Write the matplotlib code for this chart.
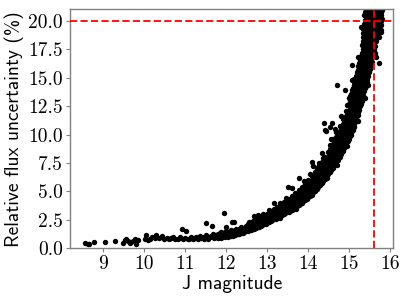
import matplotlib
matplotlib.use("Agg")
import matplotlib.pyplot as plt

# ---- data (J magnitude, relative flux uncertainty %) ----
faint_tail = [
    (8.55, 0.43), (8.62, 0.35), (8.66, 0.42), (8.78, 0.58), (9.05, 0.52), (9.28, 0.63),
    (9.48, 0.43), (9.53, 0.72), (9.56, 0.82), (9.60, 0.60), (9.66, 0.49), (9.73, 0.66),
    (9.78, 0.78), (9.80, 0.35), (9.84, 0.72), (10.04, 1.15), (10.02, 0.78), (10.10, 0.72),
    (10.13, 0.80), (10.18, 0.96), (10.29, 1.15), (10.27, 0.90), (10.35, 0.87), (10.43, 1.05),
    (10.47, 0.78), (10.55, 0.93), (10.60, 0.82), (10.66, 0.88), (10.71, 0.96), (10.76, 0.80),
    (10.82, 0.86), (10.87, 0.96), (10.91, 1.67), (10.95, 0.82), (10.99, 0.90), (11.02, 1.50),
    (11.06, 0.78), (11.10, 0.86), (11.15, 1.02), (11.20, 0.84), (11.24, 0.92), (11.27, 0.98),
    (11.30, 0.80), (11.35, 1.08), (11.38, 0.90), (11.43, 0.96), (11.46, 0.82), (11.50, 1.18),
    (11.53, 0.95), (11.56, 0.86), (11.60, 0.98), (11.63, 1.10), (11.68, 1.25), (11.70, 0.92),
    (11.74, 1.02), (11.76, 1.15),
]

outliers = [
    (11.50, 2.20), (11.64, 1.97), (11.95, 3.08), (12.00, 1.85), (12.13, 2.29), (12.19, 2.29),
    (12.68, 2.84), (12.78, 2.90), (13.17, 3.96), (13.51, 5.42), (13.61, 5.33), (13.76, 6.20),
    (14.08, 7.60), (14.12, 7.25), (14.27, 7.50), (14.33, 8.36), (14.41, 10.4), (14.43, 10.3),
    (14.38, 11.0), (14.52, 10.7), (14.57, 11.0), (14.69, 14.4), (14.90, 13.9), (15.06, 14.8),
    (15.06, 16.1), (15.28, 19.5), (15.38, 13.2), (15.65, 16.8), (15.73, 16.3),
]

edge_points = [
    (12.55, 2.35), (12.9, 3.05), (13.05, 3.35), (13.3, 4.0), (13.45, 4.4), (13.9, 5.9),
    (14.05, 6.5), (14.2, 7.0), (14.35, 7.9), (14.55, 9.6), (14.66, 10.5), (14.8, 11.6),
    (14.95, 12.6), (15.1, 14.9), (15.22, 16.8),
    (13.3, 2.65), (13.7, 3.5), (14.1, 4.65), (14.45, 6.15), (14.7, 7.3), (14.95, 9.0),
    (15.2, 11.2), (15.45, 14.4), (15.62, 17.2), (15.78, 19.0),
]

band_columns = [
    (11.80, [1.00, 1.22, 0.88]), (11.84, [1.10, 1.35]), (11.88, [0.95, 1.18, 1.40]),
    (11.92, [1.05, 1.28]), (11.96, [1.12, 0.98, 1.45]), (12.00, [1.08, 1.30, 1.55]),
    (12.04, [1.15, 1.38, 1.00]), (12.08, [1.22, 1.48]), (12.12, [1.12, 1.35, 1.62]),
    (12.16, [1.25, 1.50, 1.10]), (12.20, [1.30, 1.58, 1.18]), (12.24, [1.22, 1.45, 1.72]),
    (12.28, [1.35, 1.60, 1.25]), (12.32, [1.40, 1.68, 1.30]), (12.36, [1.32, 1.55, 1.85]),
    (12.40, [1.45, 1.70, 1.38]), (12.44, [1.52, 1.80, 1.42]), (12.48, [1.48, 1.65, 1.95]),
    (12.52, [1.50, 1.72, 1.95, 2.15]), (12.56, [1.58, 1.80, 2.05]),
    (12.60, [1.62, 1.88, 2.12, 2.30]), (12.64, [1.68, 1.95, 2.20]),
    (12.68, [1.72, 2.00, 2.28, 2.45]), (12.72, [1.80, 2.05, 2.32]),
    (12.76, [1.85, 2.12, 2.40, 2.60]), (12.80, [1.90, 2.20, 2.48]),
    (12.84, [1.98, 2.25, 2.55, 2.75]), (12.88, [2.05, 2.32, 2.62]),
    (12.92, [2.10, 2.40, 2.70, 2.90]), (12.96, [2.18, 2.48, 2.78]),
    (13.00, [2.22, 2.55, 2.85, 3.05]), (13.04, [2.30, 2.62, 2.95]),
    (13.08, [2.38, 2.70, 3.02, 3.25]), (13.12, [2.45, 2.80, 3.12]),
    (13.16, [2.55, 2.90, 3.20, 3.45]), (13.20, [2.62, 2.98, 3.30]),
    (13.24, [2.70, 3.05, 3.40, 3.65]), (13.28, [2.80, 3.15, 3.50]),
    (13.32, [2.88, 3.25, 3.62, 3.85]), (13.36, [2.95, 3.35, 3.70]),
    (13.40, [3.05, 3.45, 3.82, 4.05]), (13.44, [3.12, 3.52, 3.92]),
    (13.48, [3.22, 3.62, 4.02, 4.25]),
    (13.52, [3.20, 3.50, 3.80, 4.10, 4.35]), (13.56, [3.30, 3.62, 3.92, 4.20]),
    (13.60, [3.40, 3.72, 4.02, 4.32, 4.60]), (13.64, [3.48, 3.80, 4.12, 4.45]),
    (13.68, [3.58, 3.92, 4.25, 4.55, 4.85]), (13.72, [3.68, 4.02, 4.35, 4.68]),
    (13.76, [3.78, 4.12, 4.48, 4.82, 5.12]), (13.80, [3.90, 4.25, 4.60, 4.95]),
    (13.84, [4.00, 4.38, 4.72, 5.08, 5.40]), (13.88, [4.12, 4.50, 4.88, 5.22]),
    (13.92, [4.25, 4.62, 5.00, 5.38, 5.70]), (13.96, [4.38, 4.78, 5.15, 5.52]),
    (14.00, [4.50, 4.90, 5.30, 5.68, 6.02]), (14.04, [4.62, 5.05, 5.45, 5.85]),
    (14.08, [4.78, 5.20, 5.62, 6.02, 6.38]), (14.12, [4.92, 5.35, 5.78, 6.20]),
    (14.16, [5.08, 5.52, 5.95, 6.38, 6.75]), (14.20, [5.22, 5.68, 6.12, 6.55]),
    (14.24, [5.40, 5.85, 6.30, 6.75, 7.15]), (14.28, [5.58, 6.05, 6.50, 6.95]),
    (14.32, [5.75, 6.22, 6.70, 7.15, 7.55]), (14.36, [5.92, 6.42, 6.90, 7.38]),
    (14.40, [6.12, 6.62, 7.10, 7.60, 8.00]), (14.44, [6.30, 6.82, 7.32, 7.82]),
    (14.48, [6.50, 7.02, 7.55, 8.05, 8.50]),
    (14.52, [6.70, 7.20, 7.70, 8.20, 8.70, 9.10]), (14.56, [6.90, 7.42, 7.95, 8.45, 8.92]),
    (14.60, [7.10, 7.65, 8.18, 8.70, 9.20, 9.65]), (14.64, [7.32, 7.88, 8.42, 8.95, 9.45]),
    (14.68, [7.55, 8.12, 8.68, 9.22, 9.75, 10.2]), (14.72, [7.78, 8.38, 8.95, 9.50, 10.0]),
    (14.76, [8.02, 8.62, 9.22, 9.80, 10.35, 10.8]), (14.80, [8.28, 8.90, 9.50, 10.1, 10.65]),
    (14.84, [8.55, 9.18, 9.80, 10.4, 10.95, 11.4]), (14.88, [8.82, 9.48, 10.1, 10.7, 11.3]),
    (14.92, [9.10, 9.78, 10.4, 11.0, 11.6, 12.1]), (14.96, [9.40, 10.1, 10.75, 11.4, 12.0]),
    (15.00, [9.6, 10.3, 10.9, 11.5, 12.1, 12.7, 13.2]),
    (15.04, [10.0, 10.7, 11.3, 11.9, 12.5, 13.1, 13.6]),
    (15.08, [10.4, 11.1, 11.8, 12.4, 13.0, 13.6, 14.1]),
    (15.12, [10.8, 11.5, 12.2, 12.9, 13.5, 14.1, 14.6]),
    (15.16, [11.3, 12.0, 12.7, 13.4, 14.0, 14.6, 15.2]),
    (15.20, [11.7, 12.5, 13.2, 13.9, 14.5, 15.1, 15.7]),
    (15.24, [12.2, 13.0, 13.7, 14.4, 15.1, 15.7, 16.3]),
    (15.28, [12.7, 13.5, 14.3, 15.0, 15.7, 16.3, 16.9]),
    (15.32, [13.2, 14.0, 14.8, 15.6, 16.3, 16.9, 17.5, 18.2, 18.9]),
    (15.36, [13.8, 14.6, 15.4, 16.2, 16.9, 17.6, 18.2, 18.9, 19.7, 20.5]),
    (15.40, [14.3, 15.2, 16.0, 16.8, 17.5, 18.2, 18.9, 19.6, 20.4, 21.0]),
    (15.44, [14.9, 15.8, 16.6, 17.4, 18.2, 18.9, 19.6, 20.3, 21.0]),
    (15.48, [15.5, 16.4, 17.3, 18.1, 18.9, 19.6, 20.3, 21.0]),
    (15.52, [16.1, 17.0, 17.9, 18.8, 19.6, 20.3, 21.0]),
    (15.56, [16.8, 17.7, 18.6, 19.5, 20.3, 21.0]),
    (15.60, [17.5, 18.4, 19.3, 20.2, 21.0]),
    (15.64, [18.2, 19.1, 20.0, 20.9]),
    (15.68, [18.9, 19.8, 20.7]),
    (15.72, [18.6, 19.4, 19.8, 20.6]),
    (15.76, [19.2, 20.0, 20.8]),
    (15.80, [20.2, 21.0]),
]

steep_fill_columns = [
    (15.02, [9.9, 10.6, 11.2, 11.8, 12.4, 13.0, 13.4]),
    (15.06, [10.3, 11.0, 11.6, 12.2, 12.8, 13.4, 13.9]),
    (15.10, [10.7, 11.4, 12.1, 12.7, 13.3, 13.9, 14.4]),
    (15.14, [11.1, 11.8, 12.5, 13.2, 13.8, 14.4, 14.9]),
    (15.18, [11.6, 12.3, 13.0, 13.7, 14.3, 14.9, 15.5]),
    (15.22, [12.0, 12.8, 13.5, 14.2, 14.8, 15.4, 16.0]),
    (15.26, [12.5, 13.3, 14.0, 14.7, 15.4, 16.0, 16.6]),
    (15.30, [13.0, 13.8, 14.6, 15.3, 16.0, 16.6, 17.2, 17.9]),
    (15.34, [13.5, 14.3, 15.1, 15.9, 16.6, 17.2, 17.9, 18.6, 19.3]),
    (15.38, [14.1, 14.9, 15.7, 16.5, 17.2, 17.9, 18.6, 19.3, 20.1, 20.8]),
    (15.42, [14.6, 15.5, 16.3, 17.1, 17.8, 18.5, 19.2, 20.0, 20.7]),
    (15.46, [15.2, 16.1, 16.9, 17.7, 18.5, 19.2, 19.9, 20.6]),
    (15.50, [15.8, 16.7, 17.6, 18.4, 19.2, 19.9, 20.6]),
    (15.54, [16.4, 17.3, 18.2, 19.1, 19.9, 20.6]),
    (15.58, [17.1, 18.0, 18.9, 19.8, 20.6]),
    (15.62, [17.8, 18.7, 19.6, 20.5]),
    (15.66, [18.5, 19.4, 20.3, 21.0]),
    (15.70, [19.2, 20.1, 20.9]),
    (15.74, [19.0, 19.8, 20.4]),
    (15.78, [19.6, 20.5]),
]

j_limit = 15.6      # vertical dashed line
unc_limit = 20.0    # horizontal dashed line

x_ticks = [9, 10, 11, 12, 13, 14, 15, 16]
y_ticks = [0.0, 2.5, 5.0, 7.5, 10.0, 12.5, 15.0, 17.5, 20.0]
x_tick_labels = ["9", "10", "11", "12", "13", "14", "15", "16"]
y_tick_labels = ["0.0", "2.5", "5.0", "7.5", "10.0", "12.5", "15.0", "17.5", "20.0"]

# ---- build point table ----
jx, uy = [], []
for j, u in faint_tail + outliers + edge_points:
    jx.append(j)
    uy.append(u)
for j, us in band_columns + steep_fill_columns:
    for u in us:
        jx.append(j)
        uy.append(u)

# ---- figure ----
fig = plt.figure(figsize=(4.07, 3.05), dpi=100)
ax = fig.add_axes([70 / 407, (305 - 248.3) / 305, (393.3 - 70) / 407, (248.3 - 9) / 305])

ax.scatter(jx, uy, s=15, c="black", linewidths=0, zorder=2)
ax.axhline(unc_limit, color="red", ls="--", lw=1.3, dashes=(4, 1.8), zorder=3)
ax.axvline(j_limit, color="red", ls="--", lw=1.3, dashes=(4, 1.8), zorder=3)

ax.set_xlim(8.19, 16.07)
ax.set_ylim(0, 21.05)

ax.set_xticks(x_ticks)
ax.set_xticklabels(x_tick_labels, fontfamily="cmr10", fontsize=14)
ax.set_yticks(y_ticks)
ax.set_yticklabels(y_tick_labels, fontfamily="cmr10", fontsize=14)

ax.set_xlabel("J magnitude", fontfamily="cmss10", fontsize=14, labelpad=1)
ax.set_ylabel("Relative flux uncertainty (%)", fontfamily="cmss10", fontsize=14, labelpad=3)

for sp in ax.spines.values():
    sp.set_color("#808080")
    sp.set_linewidth(1.0)
ax.tick_params(colors="#808080", labelcolor="black", length=3, width=0.8, pad=2)

fig.savefig("out.png", dpi=100)
